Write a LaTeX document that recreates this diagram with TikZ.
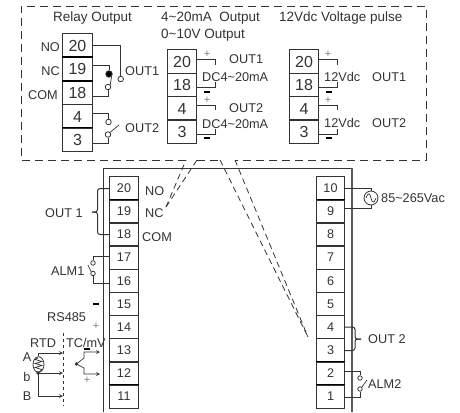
\documentclass[tikz,border=0pt]{standalone}
\usepackage{fontspec}
\setmainfont{Liberation Sans}
\usetikzlibrary{calc,shapes.geometric}
\definecolor{ink}{HTML}{333333}
\def\fsize#1{\fontsize{#1}{#1}\selectfont}
\def\tld{\textasciitilde}
\tikzset{
	lab/.style={inner sep=0pt, text=ink, font=\fsize{12.7}},
	title/.style={inner sep=0pt, text=ink, font=\fsize{13.5}},
	bigterm/.style={draw=ink, line width=0.9pt, inner sep=0pt, minimum width=29.5pt, minimum height=23.4pt, text=ink, font=\fsize{16}},
	smallterm/.style={draw=ink, line width=0.9pt, inner sep=0pt, minimum width=28.5pt, minimum height=23.2pt, text=ink, font=\fsize{12.6}},
	contact/.style={circle, draw=ink, line width=0.8pt, inner sep=0pt, minimum size=5.5pt},
	wire/.style={draw=ink, line width=0.7pt},
	bar/.style={draw=black, line width=1.6pt},
	sign/.style={inner sep=0pt, text=gray, font=\fsize{11}},
	link/.style={draw=ink, line width=0.8pt, dash pattern=on 8pt off 5pt},
	slant/.style={draw=ink, line width=0.8pt, dash pattern=on 6pt off 4pt}
}

\begin{document}
\begin{tikzpicture}[x=1pt, y=-1pt]
	\useasboundingbox (0,0) rectangle (460,412);
	%%%%% UPPER PANEL %%%%%
	\coordinate (nc end) at (166,207);
	\coordinate (out end) at (308,337);
	\coordinate (a1) at (186,160);
	\coordinate (a2) at (197,160);
	\coordinate (a3) at (220,160);
	\coordinate (a4) at (235,160);
	\draw[link] (a1) -- (21,160) -- (21,6) -- (426,6) -- (426,160) -- (a4);
	\draw[link] (a2) -- (a3);
	\draw[slant] (nc end) -- (a1);
	\draw[slant] (nc end) -- (a2);
	\draw[slant] (a3) -- (out end);
	\draw[slant] (a4) -- (out end);

	\node[title] (t relay) at (92.5,18) {Relay Output};
	\node[title, anchor=west] (t ma) at (161,18) {4\tld20mA\ \ Output};
	\node[title, anchor=west] (t volt) at (161,35) {0\tld10V Output};
	\node[title, anchor=west] (t pulse) at (279,18) {12Vdc Voltage pulse};

	\foreach \n/\y in {20/45.5, 19/69, 18/93, 4/116.5, 3/139.5}
		\node[bigterm] (r\n) at (77.5,\y) {\n};
	\foreach \n/\y in {20/61.5, 18/85, 4/108.5, 3/131.5}
		\node[bigterm] (m\n) at (182,\y) {\n};
	\foreach \n/\y in {20/61.5, 18/85, 4/108.5, 3/131.5}
		\node[bigterm] (v\n) at (304,\y) {\n};
	\draw[bar] (r19.north west) -- (r19.north east);
	\draw[bar] (r19.south west) -- (r19.south east);
	\draw[bar] (r3.north west) -- (r3.north east);

	\node[lab, anchor=east] (l no) at (60,47) {NO};
	\node[lab, anchor=east] (l nc) at (60,71) {NC};
	\node[lab, anchor=east] (l com) at (58,95) {COM};
	\node[lab, anchor=west] (l out1) at (125,71) {OUT1};
	\node[lab, anchor=west] (l out2) at (125,128) {OUT2};

	% relay contacts
	\node[contact] (c no) at (120.7,79) {};
	\node[contact, fill=black, minimum size=6.5pt] (c nc) at (109,74) {};
	\node[contact] (c com) at (108,87) {};
	\node[contact] (c a) at (108.5,122) {};
	\node[contact] (c b) at (108,134.5) {};
	\coordinate (c tip) at (119,125);
	\draw[wire] (r20.east) -| (c no.north);
	\draw[wire] ([yshift=4pt]r19.east) -| (c nc.north);
	\draw[wire] ([yshift=-3pt]r18.east) -| (c com.south);
	\draw[wire] (c com.north east) -- (c nc.south east);
	\draw[wire] ([yshift=3.5pt]r4.east) -| (c a.north);
	\draw[wire] ([yshift=-3.5pt]r3.east) -| (c b.south);
	\draw[wire] (c b.north east) -- (c tip);

	% current and pulse outputs
	\foreach \k/\x/\up/\dn/\a/\b/\e/\f/\my in {m/215/20/18/2.5/-2/65/82/92, m/215/4/3/3.5/-2.5/110/129/138, v/337.5/20/18/2.5/-2/65/82/92, v/337.5/4/3/3.5/-2.5/110/129/138}{
		\draw[wire] ([yshift=\a pt]\k\up.east) -| (\x,\e);
		\draw[wire] ([yshift=\b pt]\k\dn.east) -| (\x,\f);
		\draw[bar] (\x-11.5,\my) -- (\x-5.5,\my);
	}
	\node[sign] (s m1) at (207,54) {+};
	\node[sign] (s m2) at (207,100.5) {+};
	\node[sign] (s v1) at (328,54) {+};
	\node[sign] (s v2) at (328,100.5) {+};

	\node[lab, anchor=west] (l m1) at (229,59) {OUT1};
	\node[lab, anchor=west] (l dc1) at (202,77) {DC4\tld20mA};
	\node[lab, anchor=west] (l m2) at (229,108) {OUT2};
	\node[lab, anchor=west] (l dc2) at (202,124) {DC4\tld20mA};
	\node[lab, anchor=west] (l v1) at (324,77) {12Vdc};
	\node[lab, anchor=west] (l o1) at (372,77) {OUT1};
	\node[lab, anchor=west] (l v2) at (324,123) {12Vdc};
	\node[lab, anchor=west] (l o2) at (372,123) {OUT2};

	%%%%% LOWER PANEL %%%%%
	\draw[ink, line width=1pt] (103,412) -- (103,168) -- (352,168);
	\draw[ink!80, line width=1.3pt] (352,168) -- (352,412);

	\foreach \n/\y in {20/188.5, 19/211.5, 18/234.5, 17/257.5, 16/281, 15/304, 14/327, 13/350.5, 12/373.5, 11/396.5}
		\node[smallterm] (s\n) at (124,\y) {\n};
	\foreach \n/\y in {10/188.5, 9/211.5, 8/234.5, 7/257.5, 6/281, 5/304, 4/327, 3/350.5, 2/373.5, 1/396.5}
		\node[smallterm] (q\n) at (330.5,\y) {\n};
	\draw[bar] (s19.north west) -- (s19.north east);
	\draw[bar] (s11.north west) -- (s11.north east);
	\draw[bar] (q9.north west) -- (q9.north east);
	\draw[bar] (q2.north west) -- (q2.north east);
	\draw[bar] (q1.north west) -- (q1.north east);

	\node[lab, anchor=west] (n no) at (145,191) {NO};
	\node[lab, anchor=west] (n nc) at (145,213) {NC};
	\node[lab, anchor=west] (n com) at (142,237) {COM};
	\node[lab, anchor=west] (n out1) at (45,213) {OUT 1};
	\node[lab, anchor=west] (n alm1) at (51,271) {ALM1};
	\node[lab, anchor=west] (n rs) at (47,317) {RS485};
	\node[lab, anchor=west] (n out2) at (368,339) {OUT 2};
	\node[lab, anchor=west] (n alm2) at (368,384) {ALM2};
	\node[lab, anchor=west] (n ac) at (381,198) {85\tld265Vac};

	% braces
	\draw[wire, line width=1pt, rounded corners=2.5pt] (s20.west) -- (97.5,188.5) -- (97.5,212) -- (92,212);
	\draw[wire, line width=1pt, rounded corners=2.5pt] (s18.west) -- (97.5,234.5) -- (97.5,212) -- (92,212);
	\draw[wire, line width=1pt, rounded corners=2.5pt] (q4.east) -- (355,327) -- (355,339) -- (361,339);
	\draw[wire, line width=1pt, rounded corners=2.5pt] (q3.east) -- (355,350.5) -- (355,339) -- (361,339);

	% alarm contacts
	\node[contact, minimum size=4.5pt] (a1 up) at (93,263) {};
	\node[contact, minimum size=4.5pt] (a1 dn) at (93,273.5) {};
	\draw[wire] ([yshift=1.5pt]s17.west) -| (a1 up.north);
	\draw[wire] ([yshift=-2pt]s16.west) -| (a1 dn.south);
	\coordinate (a1 tip) at (88,265);
	\draw[wire] (a1 dn.north west) -- (a1 tip);
	\node[contact, minimum size=4.5pt] (a2 up) at (360,378) {};
	\node[contact, minimum size=4.5pt] (a2 dn) at (360,389) {};
	\draw[wire] ([yshift=2.5pt]q2.east) -| (a2 up.north);
	\draw[wire] ([yshift=-0.5pt]q1.east) -| (a2 dn.south);
	\coordinate (a2 tip) at (367,380);
	\draw[wire] (a2 dn.north east) -- (a2 tip);

	% mains
	\node[contact, minimum size=14pt] (ac) at (371,198) {};
	\draw[wire] (ac.north) |- ([yshift=0.5pt]q10.east);
	\draw[wire] (ac.south) |- ([yshift=3.5pt]q9.east);
	\draw[wire] ($(ac)+(-5,0)$) .. controls ($(ac)+(-3,-6)$) and ($(ac)+(-1,-5)$) .. (ac.center) .. controls ($(ac)+(1,5)$) and ($(ac)+(3,6)$) .. ($(ac)+(5,0)$);

	% sensor input
	\draw[bar] (93,304) -- (99,304);
	\node[sign] (s rs) at (96,326) {+};
	\node[lab, anchor=west] (n rtd) at (30,343) {RTD};
	\node[lab, anchor=west] (n tc) at (66,343) {TC/mV};
	\node[lab] (n a) at (27,357) {A};
	\node[lab] (n b) at (27,377) {b};
	\node[lab] (n bb) at (27,396) {B};
	\draw[wire, dashed] (63,333) -- (63,406);
	\node[draw=ink, ellipse, line width=0.8pt, inner sep=0pt, minimum width=11pt, minimum height=15.5pt] (rtd) at (38.5,364.5) {};
	\draw[wire] (38,358) -- (35,359.5) -- (42,361.5) -- (35,363.5) -- (42,365.5) -- (35,367.5) -- (42,369.5) -- (38,373);
	\coordinate (rtd dot) at (38,373);
	\fill[ink] (rtd dot) circle (1.8);
	\draw[wire, -stealth] (rtd.north) |- (63,353);
	\draw[wire, -stealth] (rtd dot) -- (63,373);
	\draw[wire, -stealth] (rtd dot) |- (63,396);
	\coordinate (tc dot) at (76.5,364);
	\fill[ink] (tc dot) circle (1.8);
	\draw[wire, -stealth] (tc dot) -- (84,358) -- (84,352) -- (100,352);
	\draw[wire, -stealth] (tc dot) -- (84,368) -- (84,374) -- (100,374);
	\draw[bar] (84,349) -- (90,349);
	\node[sign] (s tc) at (87,380) {+};
\end{tikzpicture}
\end{document}
